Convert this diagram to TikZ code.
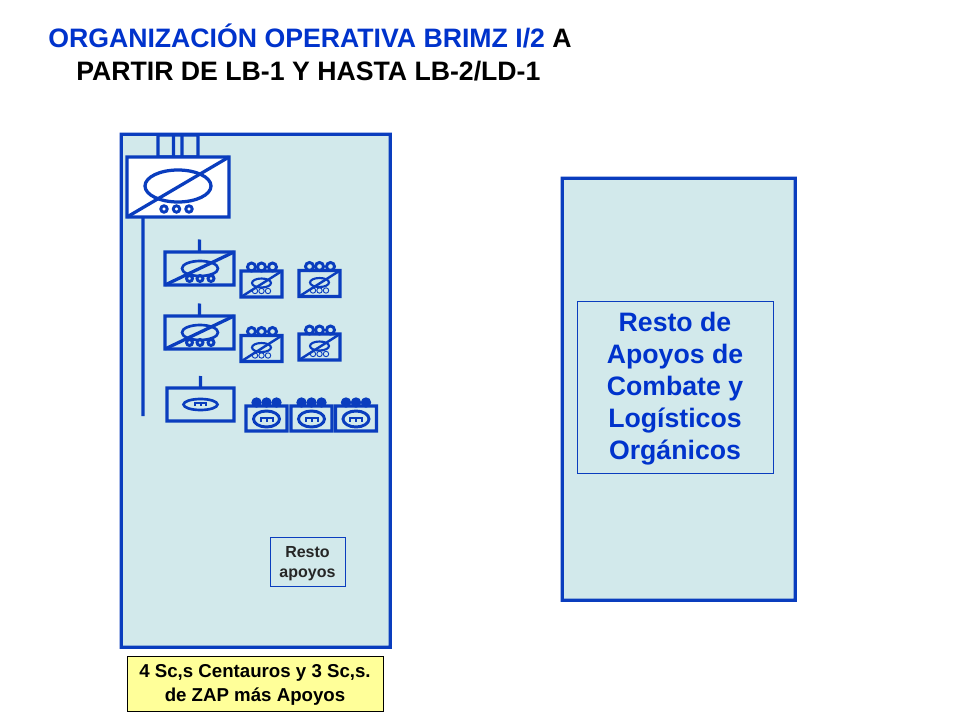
\documentclass[tikz,border=0pt]{standalone}
\usepackage{fontspec}
\setmainfont{Liberation Sans}
\definecolor{panelblue}{HTML}{D2E9EB}
\definecolor{linkblue}{HTML}{0A3DBE}
\definecolor{titleblue}{HTML}{0033CC}
\definecolor{paleyellow}{HTML}{FFFF99}
\tikzset{
  px/.style={minimum width=#1*0.75pt},
  py/.style={minimum height=#1*0.75pt},
  panel/.style={fill=panelblue,inner sep=0,outer sep=0,rectangle},
  symbox/.style={inner sep=0,outer sep=0,rectangle},
  symline/.style={draw=linkblue,line width=2.45pt,line join=miter},
  thinline/.style={draw=linkblue,line width=1.6pt},
  hair/.style={draw=linkblue,line width=0.7pt},
  textbox/.style={draw=linkblue,line width=0.75pt,inner sep=0,outer sep=0,rectangle},
  boxtext/.style={inner sep=0,align=center},
  dot/.style={draw=linkblue,line width=2.2pt,fill=none},
  titletext/.style={font=\fontsize{20}{24}\selectfont\bfseries,inner sep=0,anchor=base west}
}
% outline of a node, very slightly off the pixel axes so that it keeps its full width
\newcommand{\frameof}[1]{%
  \draw[symline] ([xshift=0.03pt]#1.south west) -- ([yshift=0.03pt]#1.north west)
    -- ([xshift=-0.03pt]#1.north east) -- ([yshift=-0.03pt]#1.south east) -- cycle;}
% medium unit symbol: centre of box, name
\newcommand{\medunit}[3]{%
  \begin{scope}[shift={(#2,#3)}]
    \node[symbox,px=69,py=33] (#1) at (0,0) {};
    \frameof{#1}
    \draw[symline] (#1.south west) -- (#1.north east);
    \draw[symline,line width=2pt] (0.5,0) ellipse [x radius=18,y radius=7.5];
    \foreach \dx in {-10,0.5,11.5} \draw[dot] (\dx,10) circle [radius=3];
    \coordinate (#1stem) at (0.1,-29);
    \draw[symline] (#1stem) -- (#1.north);
  \end{scope}}
% small unit symbol
\newcommand{\smallunit}[3]{%
  \begin{scope}[shift={(#2,#3)}]
    \node[symbox,px=41,py=26] (#1) at (0,0) {};
    \frameof{#1}
    \draw[symline,line width=1.8pt] (#1.south west) -- (#1.north east);
    \draw[thinline] (0,-1) ellipse [x radius=9.5,y radius=4.5];
    \foreach \dx in {-6.5,0,6.5} \draw[hair] (\dx,7) circle [radius=2.7];
    \foreach \dx in {-10,0,11} \draw[dot] (\dx,-17) circle [radius=4];
  \end{scope}}
% the m sign inside the oval
\newcommand{\msign}[3]{%
  \begin{scope}[shift={(#1,#2)},scale=#3]
    \draw[thinline,line width=1.5pt] (-6,2) -- (-6,-2) -- (6,-2) -- (6,2) (0,-2) -- (0,2);
  \end{scope}}
% lower-row small symbol
\newcommand{\reconunit}[3]{%
  \begin{scope}[shift={(#2,#3)}]
    \node[symbox,px=41,py=25] (#1) at (0,0) {};
    \frameof{#1}
    \draw[symline,line width=2.2pt] (0,0.5) ellipse [x radius=13,y radius=8];
    \msign{0}{1}{1}
    \foreach \dx in {-10,0,10} \fill[linkblue] (\dx,-16) circle [radius=5.2];
  \end{scope}}
\begin{document}
\begin{tikzpicture}[x=0.75pt,y=-0.75pt]
\useasboundingbox (0,0) rectangle (960,720);
\fill[white] (0,0) rectangle (960,720);

% title
\node[titletext,text=titleblue] (title1) at (48,47.5) {ORGANIZACIÓN OPERATIVA BRIMZ I/2 \textcolor{black}{A}};
\node[titletext,text=black] (title2) at (76,81) {PARTIR DE LB-1 Y HASTA LB-2/LD-1};

% panels
\node[panel,px=269,py=513] (leftpanel) at (255.7,390.7) {};
\frameof{leftpanel}
\node[panel,px=233,py=422] (rightpanel) at (678.7,389.2) {};
\frameof{rightpanel}

% HQ symbol
\node[symbox,px=40,py=22] (hqtop) at (178,146) {};
\frameof{hqtop}
\coordinate (ta) at (173.5,135);
\coordinate (tb) at (182,135);
\draw[symline] (ta) -- (173.6,157);
\draw[symline] (tb) -- (182.1,157);
\node[symbox,fill=white,px=102,py=60] (hq) at (178,187) {};
\frameof{hq}
\draw[symline] (hq.south west) -- (hq.north east);
\draw[symline] (178,186) ellipse [x radius=33,y radius=16];
\foreach \x in {164,176.5,189} \draw[dot] (\x,209) circle [radius=3.2];
\coordinate (trunkend) at (143.1,416);
\draw[symline] (143,217) -- (trunkend);

% medium units
\medunit{ma}{199.5}{268.5}
\medunit{mb}{199.5}{332.5}
\node[symbox,px=67,py=33] (mc) at (200.5,404.5) {};
\frameof{mc}
\coordinate (mcstem) at (200.6,376);
\draw[symline] (mcstem) -- (mc.north);
\draw[symline,line width=2pt] (200.5,404.5) ellipse [x radius=17,y radius=5.5];
\msign{200.5}{404.5}{0.85}

% small units
\smallunit{sa}{261.5}{284}
\smallunit{sb}{319.5}{283.5}
\smallunit{sc}{261.5}{348.5}
\smallunit{sd}{319.5}{347}
\reconunit{ra}{266.5}{418.5}
\reconunit{rb}{311.5}{418.5}
\reconunit{rc}{356}{418.5}

% text boxes
\node[textbox,px=75,py=49,fill=panelblue] (resto) at (307.5,561.5) {};
\node[boxtext,font=\fontsize{12}{14.5}\selectfont\bfseries,text=black!85] (restotext) at (307.5,563.5) {Resto\\apoyos};
\node[textbox,px=196,py=171] (apoyos) at (675,387.5) {};
\node[boxtext,text=titleblue,font=\fontsize{20}{24}\selectfont\bfseries] (apoyostext) at (675,389) {Resto de\\Apoyos de\\Combate y\\Logísticos\\Orgánicos};
\node[draw=black,line width=0.75pt,fill=paleyellow,inner sep=0,outer sep=0,rectangle,px=256,py=55] (note) at (255,683.5) {};
\node[boxtext,font=\fontsize{14}{17.5}\selectfont\bfseries] (notetext) at (255,685) {4 Sc,s Centauros y 3 Sc,s.\\de ZAP más Apoyos};
\end{tikzpicture}
\end{document}
